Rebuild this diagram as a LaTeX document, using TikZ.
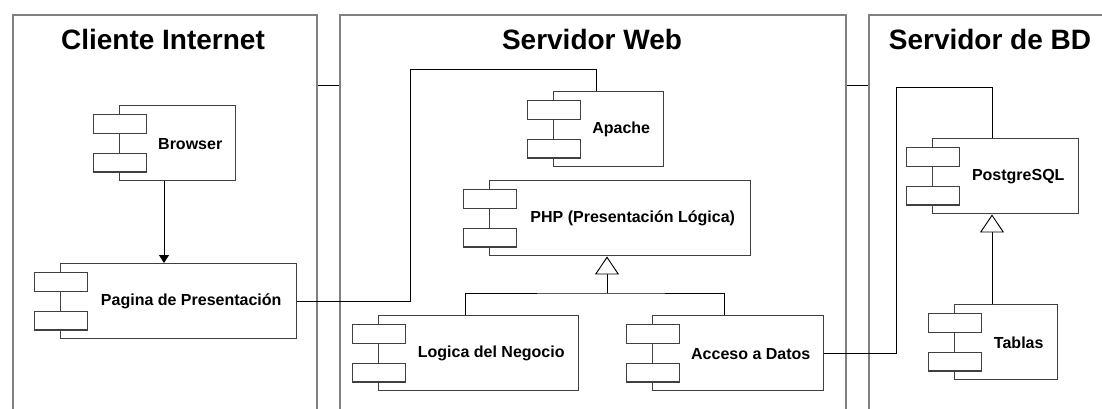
\documentclass[tikz,border=0pt]{standalone}
\usepackage{fontspec}
\setmainfont{Liberation Sans}
\usetikzlibrary{arrows.meta,calc,positioning}
\tikzset{
  zone/.style={draw=black!50, line width=1.6pt, fill=none, inner sep=0pt, anchor=north west},
  ztitle/.style={font=\bfseries\fontsize{21}{24}\selectfont, inner sep=0pt},
  mainbox/.style={draw=black!75, line width=1.1pt, fill=white, inner sep=0pt, minimum height=56.25pt, anchor=north west},
  tab/.style={draw=black!75, line width=1.1pt, fill=white, inner sep=0pt, minimum width=39.75pt, minimum height=14pt, anchor=north west},
  ctext/.style={font=\bfseries\fontsize{12}{14}\selectfont, inner sep=0pt},
  link/.style={draw=black, line width=0.7pt},
  arr/.style={link, -{Triangle[length=6pt,width=7.5pt]}},
  gen/.style={link, -{Triangle[open,length=13.5pt,width=18pt,fill=white]}}
}
% component: name, left, top, width(px), text
\newcommand\umlcomp[5]{%
  \node[mainbox, minimum width=#4*0.75pt] (#1) at (#2,#3) {};
  \node[tab] (#1-t1) at ($(#1.north west)+(-26,9)$) {};
  \node[tab] (#1-t2) at ($(#1.north west)+(-26,47.5)$) {};
  \node[ctext] (#1-l) at ($(#1.center)+(12.5,0.5)$) {#5};
}
\begin{document}
\begin{tikzpicture}[x=0.75pt,y=-0.75pt]
\useasboundingbox (0,0) rectangle (1102,408);
\fill[white] (0,0) rectangle (1102,408);

% zones (open at the bottom, extend beyond the page)
\node[zone, minimum width=304*0.75pt, minimum height=420*0.75pt] (cli) at (12,14) {};
\node[zone, minimum width=506*0.75pt, minimum height=420*0.75pt] (web) at (339,14) {};
\node[zone, minimum width=260*0.75pt, minimum height=420*0.75pt] (bd) at (868,14) {};

\node[ztitle] (tcli) at (163,39) {Cliente Internet};
\node[ztitle] (tweb) at (592,39) {Servidor Web};
\node[ztitle] (tbd) at (990,39) {Servidor de BD};

% links between zones
\coordinate (z1) at ($(cli.north east)+(0,71)$);
\coordinate (z2) at ($(web.north east)+(0,71)$);
\draw[link] (z1) -- (z1 -| web.west);
\draw[link] (z2) -- (z2 -| bd.west);

% components
\umlcomp{browser}{119}{105}{116}{Browser}
\umlcomp{pagina}{60}{263}{236}{Pagina de Presentación}
\umlcomp{apache}{553}{91}{110}{Apache}
\umlcomp{php}{489}{180}{261}{PHP (Presentación Lógica)}
\umlcomp{logica}{378}{315}{200}{Logica del Negocio}
\umlcomp{acceso}{652}{315}{171}{Acceso a Datos}
\umlcomp{postgres}{932}{138}{146}{PostgreSQL}
\umlcomp{tablas}{954}{304}{103}{Tablas}

% Browser -> Pagina
\coordinate (b1) at ($(browser.south west)+(45,0)$);
\draw[arr] (b1) -- (b1 |- pagina.north);

% Pagina -> Apache
\coordinate (k1) at (410,69);
\coordinate (k2) at ($(apache.north west)+(43,0)$);
\draw[link] (pagina.east) -| (k1) -| (k2);

% generalization to PHP
\coordinate (g0) at ($(php.south west)+(118,0)$);
\coordinate (gj) at (607,293);
\coordinate (gl) at ($(logica.north west)+(87,0)$);
\coordinate (ga) at ($(acceso.north west)+(72,0)$);
\draw[link] (gl) |- (gj) -| (ga);
\draw[gen] (gj) -- (g0);

% Acceso -> PostgreSQL
\coordinate (k3) at (896,87);
\coordinate (k4) at ($(postgres.north west)+(60,0)$);
\draw[link] (acceso.east) -| (k3) -| (k4);

% Tablas -> PostgreSQL
\coordinate (t1) at ($(tablas.north west)+(38,0)$);
\draw[gen] (t1) -- (t1 |- postgres.south);
\end{tikzpicture}
\end{document}
